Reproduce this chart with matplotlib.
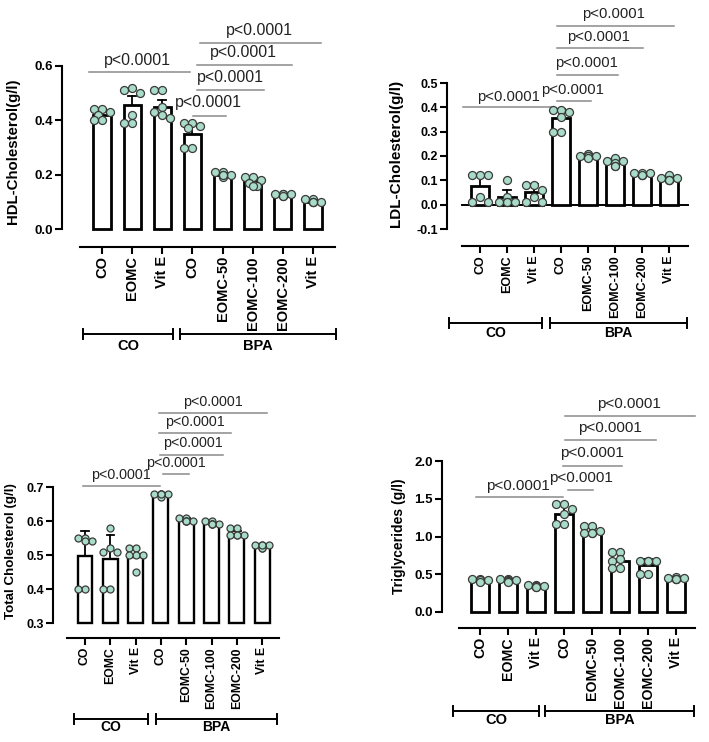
import numpy as np
import matplotlib
matplotlib.use('Agg')
import matplotlib.pyplot as plt
from matplotlib.transforms import blended_transform_factory

plt.rcParams['font.family'] = ['Liberation Sans', 'DejaVu Sans']

# ---------------- data ----------------
categories = ['CO', 'EOMC', 'Vit E', 'CO', 'EOMC-50', 'EOMC-100', 'EOMC-200', 'Vit E']
group_labels = ['CO', 'BPA']
p_label = 'p<0.0001'

hdl_mean = [0.42, 0.455, 0.45, 0.35, 0.20, 0.18, 0.125, 0.10]
hdl_sd = [0.02, 0.033, 0.026, 0.035, 0.008, 0.012, 0.005, 0.008]
hdl_points = [
    [0.44, 0.44, 0.43, 0.42, 0.40, 0.40],
    [0.52, 0.50, 0.51, 0.42, 0.39, 0.39],
    [0.51, 0.51, 0.45, 0.43, 0.42, 0.41],
    [0.39, 0.39, 0.38, 0.37, 0.30, 0.30],
    [0.21, 0.21, 0.20, 0.20, 0.19, 0.20],
    [0.19, 0.19, 0.18, 0.17, 0.16, 0.16],
    [0.13, 0.13, 0.13, 0.12, 0.13, 0.12],
    [0.11, 0.11, 0.10, 0.10, 0.10, 0.10],
]

ldl_mean = [0.075, 0.03, 0.05, 0.355, 0.20, 0.175, 0.125, 0.105]
ldl_sd = [0.047, 0.03, 0.035, 0.04, 0.008, 0.012, 0.005, 0.008]
ldl_points = [
    [0.12, 0.12, 0.12, 0.03, 0.01, 0.01],
    [0.10, 0.03, 0.01, 0.01, 0.01, 0.01],
    [0.08, 0.08, 0.06, 0.03, 0.01, 0.01],
    [0.39, 0.39, 0.38, 0.36, 0.30, 0.30],
    [0.21, 0.20, 0.20, 0.20, 0.19, 0.20],
    [0.19, 0.18, 0.18, 0.17, 0.16, 0.16],
    [0.13, 0.13, 0.12, 0.12, 0.13, 0.12],
    [0.12, 0.11, 0.10, 0.10, 0.10, 0.11],
]

tc_mean = [0.497, 0.487, 0.495, 0.677, 0.603, 0.593, 0.558, 0.527]
tc_sd = [0.075, 0.072, 0.025, 0.005, 0.005, 0.005, 0.012, 0.005]
tc_points = [
    [0.55, 0.55, 0.54, 0.54, 0.40, 0.40],
    [0.58, 0.52, 0.51, 0.51, 0.40, 0.40],
    [0.52, 0.52, 0.50, 0.50, 0.50, 0.45],
    [0.68, 0.68, 0.68, 0.68, 0.67, 0.68],
    [0.61, 0.61, 0.60, 0.60, 0.60, 0.60],
    [0.60, 0.60, 0.59, 0.59, 0.59, 0.59],
    [0.58, 0.58, 0.56, 0.56, 0.56, 0.56],
    [0.53, 0.53, 0.52, 0.53, 0.52, 0.53],
]

tg_mean = [0.42, 0.42, 0.34, 1.30, 1.06, 0.68, 0.62, 0.44]
tg_sd = [0.02, 0.02, 0.02, 0.12, 0.05, 0.10, 0.08, 0.02]
tg_points = [
    [0.44, 0.44, 0.42, 0.41, 0.42, 0.40],
    [0.44, 0.44, 0.42, 0.42, 0.41, 0.40],
    [0.36, 0.36, 0.34, 0.33, 0.34, 0.33],
    [1.43, 1.43, 1.37, 1.30, 1.17, 1.17],
    [1.14, 1.14, 1.07, 1.05, 1.05, 1.05],
    [0.80, 0.80, 0.70, 0.68, 0.58, 0.58],
    [0.68, 0.68, 0.67, 0.68, 0.50, 0.50],
    [0.46, 0.45, 0.44, 0.45, 0.44, 0.44],
]

# ---------------- layout (pixels) ----------------
W, H = 709, 742
fig = plt.figure(figsize=(W / 100, H / 100), dpi=100)

DOT = '#a8dcc8'


def swarm_offsets(ax, xc, vals, diam, maxoff):
    placed = []
    offs = [0.0] * len(vals)
    order = np.argsort(vals)[::-1]
    sx = ax.transData.transform((1, 0))[0] - ax.transData.transform((0, 0))[0]
    step = diam * 0.5 / sx
    cands = [0, -2, 2, -1, 1, -3, 3, -1.5, 1.5, -2.5, 2.5, -0.5, 0.5]
    for i in order:
        best = None
        for c in cands:
            off = c * step
            if abs(off) > maxoff:
                continue
            p = ax.transData.transform((xc + off, vals[i]))
            if all(np.hypot(*(p - q)) >= diam * 0.75 for q in placed):
                best = off
                break
        if best is None:
            best = 0.0
        offs[i] = best
        placed.append(ax.transData.transform((xc + best, vals[i])))
    return offs


def panel(cfg, means, sds, points, ylabel, yticks, sig):
    bar0, sp = cfg['bar0'], cfg['sp']
    left, right = cfg['left'], cfg['right']
    ybot, ytop = cfg['ybot_px'], cfg['ytop_px']
    ax = fig.add_axes([left / W, 1 - ybot / H, (right - left) / W, (ybot - ytop) / H])
    xl = (left - bar0) / sp
    xr = (right - bar0) / sp
    ax.set_xlim(xl, xr)
    ax.set_ylim(yticks[0], yticks[-1])
    x = np.arange(len(categories))
    lw = cfg['lw']
    ax.bar(x, np.array(means) - cfg['base'], bottom=cfg['base'], width=cfg['bw'],
           facecolor='white', edgecolor='black', linewidth=lw, zorder=2, clip_on=False)
    capw = cfg['capw']
    for xi, m, s in zip(x, means, sds):
        ax.plot([xi, xi], [m, m + s], color='black', lw=1.3, zorder=3, clip_on=False)
        ax.plot([xi - capw, xi + capw], [m + s, m + s], color='black', lw=1.3, zorder=3, clip_on=False)
    for xi, vals in zip(x, points):
        offs = swarm_offsets(ax, xi, vals, cfg['diam'], cfg['bw'] * 0.55)
        ax.scatter(xi + np.array(offs), vals, s=(cfg['diam'] * 0.72) ** 2, facecolor=DOT,
                   edgecolor='#3a3a3a', linewidth=0.9, zorder=4, clip_on=False)
    if cfg.get('zero'):
        ax.plot([cfg['xb'], xr], [0, 0], color='black', lw=1.4, zorder=1, clip_on=False)
    # spines
    for s in ['top', 'right']:
        ax.spines[s].set_visible(False)
    ax.spines['left'].set_linewidth(1.5)
    ax.spines['left'].set_bounds(yticks[0], yticks[-1])
    ax.spines['bottom'].set_linewidth(1.5)
    ax.spines['bottom'].set_position(('outward', cfg['xoff'] * 0.72))
    ax.spines['bottom'].set_bounds(cfg['xb'], xr)
    ax.set_yticks(yticks)
    ax.set_yticklabels([cfg['yfmt'].format(t) for t in yticks], fontsize=cfg['ytfs'], fontweight='bold')
    ax.tick_params(axis='y', direction='out', length=5, width=1.5, pad=1.5)
    ax.set_xticks(x)
    ax.set_xticklabels(categories, rotation=90, fontsize=cfg['xtfs'], fontweight='bold')
    ax.tick_params(axis='x', direction='out', length=5, width=1.5, pad=1.5)
    ax.set_ylabel(ylabel, fontsize=cfg['ylfs'], fontweight='bold')
    ax.yaxis.set_label_coords(*cfg['ylpos'])
    # significance
    for (x1, x2, y, tx, ty) in sig:
        ax.plot([x1, x2], [y, y], color='#8a8a8a', lw=1.1, clip_on=False)
        ax.text(tx, ty, p_label, ha='center', va='center', fontsize=cfg['pfs'], color='#222222')
    # group brackets
    hpx = ybot - ytop
    tr = blended_transform_factory(ax.transData, ax.transAxes)
    by = -cfg['bracket_dy'] / hpx
    cap = 5 / hpx
    ly = -cfg['label_dy'] / hpx
    for (g1, g2), lab in zip(cfg['brackets'], group_labels):
        ax.plot([g1, g2], [by, by], color='black', lw=1.4, transform=tr, clip_on=False)
        for g in (g1, g2):
            ax.plot([g, g], [by - cap, by + cap], color='black', lw=1.4, transform=tr, clip_on=False)
        ax.text((g1 + g2) / 2, ly, lab, transform=tr, ha='center', va='center',
                fontsize=cfg['gfs'], fontweight='bold')
    return ax


hdl_cfg = dict(bar0=102, sp=30.14, left=62, right=335, ybot_px=229, ytop_px=66, base=0.0,
               bw=0.57, lw=2.0, capw=0.13, diam=8, xb=-0.73, xoff=18, yfmt='{:.1f}',
               ytfs=9.5, xtfs=10.5, ylfs=10.8, ylpos=(-0.154, 0.48), pfs=11.5, gfs=10.5,
               brackets=[(-0.63, 2.36), (2.59, 7.76)], bracket_dy=105, label_dy=117)
ldl_cfg = dict(bar0=480, sp=27, left=447, right=688, ybot_px=229, ytop_px=83, base=0.0,
               bw=0.63, lw=2.0, capw=0.14, diam=8, xb=-0.67, xoff=17, yfmt='{:.1f}',
               ytfs=9, xtfs=9, ylfs=11, ylpos=(-0.183, 0.52), pfs=10.7, gfs=10,
               brackets=[(-1.15, 2.30), (2.59, 7.67)], bracket_dy=94, label_dy=104, zero=True)
tc_cfg = dict(bar0=85, sp=25.3, left=53, right=279, ybot_px=623, ytop_px=487, base=0.3,
              bw=0.59, lw=1.7, capw=0.15, diam=7, xb=-0.71, xoff=15, yfmt='{:.1f}',
              ytfs=9, xtfs=8.8, ylfs=9.6, ylpos=(-0.159, 0.53), pfs=10.3, gfs=10,
              brackets=[(-0.43, 2.49), (2.81, 7.59)], bracket_dy=96, label_dy=104)
tg_cfg = dict(bar0=480, sp=28, left=442, right=695, ybot_px=612, ytop_px=461, base=0.0,
              bw=0.64, lw=2.0, capw=0.13, diam=8, xb=-0.75, xoff=16, yfmt='{:.1f}',
              ytfs=9.5, xtfs=10.2, ylfs=10, ylpos=(-0.142, 0.50), pfs=11, gfs=10.5,
              brackets=[(-0.96, 2.11), (2.32, 7.64)], bracket_dy=99, label_dy=108)

hdl_sig = [(-0.43, 2.92, 0.578, 1.19, 0.622), (3.02, 4.11, 0.416, 3.52, 0.464),
           (3.15, 5.37, 0.512, 4.25, 0.559), (3.15, 6.30, 0.604, 4.68, 0.651),
           (3.25, 7.27, 0.685, 5.21, 0.732)]
ldl_sig = [(-0.63, 2.67, 0.403, 1.04, 0.444), (2.85, 4.11, 0.424, 3.44, 0.473),
           (2.85, 5.11, 0.531, 3.93, 0.584), (2.85, 6.04, 0.642, 4.37, 0.691),
           (2.85, 7.19, 0.733, 4.96, 0.782)]
tc_sig = [(-0.08, 2.96, 0.703, 1.42, 0.735), (3.08, 4.11, 0.738, 3.60, 0.771),
          (2.96, 5.45, 0.794, 4.27, 0.829), (2.92, 5.77, 0.859, 4.35, 0.891),
          (2.92, 7.19, 0.918, 5.06, 0.950)]
tg_sig = [(-0.14, 2.95, 1.527, 1.37, 1.67), (3.15, 4.03, 1.616, 3.60, 1.77),
          (2.95, 5.08, 1.94, 4.01, 2.10), (3.04, 6.28, 2.278, 4.64, 2.44),
          (3.04, 7.68, 2.596, 5.33, 2.75)]

panel(hdl_cfg, hdl_mean, hdl_sd, hdl_points, 'HDL-Cholesterol(g/l)', [0.0, 0.2, 0.4, 0.6], hdl_sig)
panel(ldl_cfg, ldl_mean, ldl_sd, ldl_points, 'LDL-Cholesterol(g/l)',
      [-0.1, 0.0, 0.1, 0.2, 0.3, 0.4, 0.5], ldl_sig)
panel(tc_cfg, tc_mean, tc_sd, tc_points, 'Total Cholesterol (g/l)', [0.3, 0.4, 0.5, 0.6, 0.7], tc_sig)
panel(tg_cfg, tg_mean, tg_sd, tg_points, 'Triglycerides (g/l)', [0.0, 0.5, 1.0, 1.5, 2.0], tg_sig)

fig.savefig('out.png', dpi=100, facecolor='white')
